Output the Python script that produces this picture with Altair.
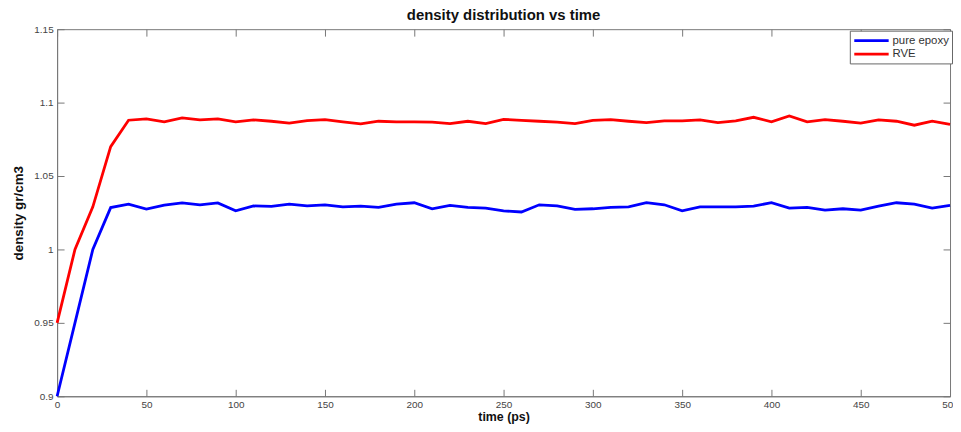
import altair as alt
import pandas as pd

# ---- data ----
time_ps = list(range(0, 501, 10))

pure_epoxy = [
    0.900, 0.950, 1.000, 1.0285, 1.0309, 1.0275, 1.0302, 1.0317, 1.0304, 1.0317,
    1.0263, 1.0296, 1.0293, 1.0309, 1.0296, 1.0304, 1.0290, 1.0295, 1.0286, 1.0309,
    1.0318, 1.0277, 1.0300, 1.0286, 1.0282, 1.0263, 1.0255, 1.0304, 1.0296, 1.0273,
    1.0277, 1.0286, 1.0290, 1.0318, 1.0304, 1.0263, 1.0290, 1.0290, 1.0290, 1.0295,
    1.0318, 1.0282, 1.0286, 1.0268, 1.0277, 1.0268, 1.0295, 1.0318, 1.0309, 1.0282,
    1.0300,
]

rve = [
    0.950, 1.000, 1.029, 1.070, 1.088, 1.0889, 1.0869, 1.0896, 1.0882, 1.0889,
    1.0869, 1.0882, 1.0873, 1.0860, 1.0878, 1.0884, 1.0869, 1.0855, 1.0873, 1.0869,
    1.0868, 1.0867, 1.0857, 1.0873, 1.0857, 1.0886, 1.0879, 1.0873, 1.0867, 1.0857,
    1.0879, 1.0884, 1.0873, 1.0864, 1.0875, 1.0876, 1.0882, 1.0864, 1.0875, 1.0900,
    1.0869, 1.0909, 1.0869, 1.0884, 1.0873, 1.0860, 1.0882, 1.0873, 1.0846, 1.0873,
    1.0851,
]

series_names = ["pure epoxy", "RVE"]
series_colors = ["#0000FF", "#FF0000"]
x_ticks = list(range(0, 501, 50))
y_ticks = [0.9, 0.95, 1.0, 1.05, 1.1, 1.15]

df = pd.DataFrame({
    "time": time_ps + time_ps,
    "density": pure_epoxy + rve,
    "series": [series_names[0]] * len(time_ps) + [series_names[1]] * len(time_ps),
})

W, H = 900, 370
FONT = "Liberation Sans"
AX = "#777777"

chart = alt.Chart(df).mark_line(strokeWidth=2.8).encode(
    x=alt.X(
        "time:Q",
        scale=alt.Scale(domain=[0, 500], nice=False, zero=False),
        axis=alt.Axis(
            values=x_ticks, format="d", title="time (ps)",
            ticks=False, grid=True, gridDash=[7, H - 14, 7, 2000],
            gridColor=AX, gridOpacity=1, gridWidth=1,
            domainColor=AX, labelFlush=False,
            labelFont=FONT, labelFontSize=10, labelColor="#444444", labelPadding=3,
            titleFont=FONT, titleFontSize=12.5, titleFontWeight="bold",
            titleColor="#111111", titlePadding=1.2,
        ),
    ),
    y=alt.Y(
        "density:Q",
        scale=alt.Scale(domain=[0.9, 1.15], nice=False, zero=False),
        axis=alt.Axis(
            values=y_ticks, format="~g", title="density gr/cm3",
            ticks=False, grid=True, gridDash=[7, W - 14, 7, 2000],
            gridColor=AX, gridOpacity=1, gridWidth=1,
            domainColor=AX, labelFlush=False,
            labelFont=FONT, labelFontSize=10, labelColor="#444444", labelPadding=4,
            titleFont=FONT, titleFontSize=13.5, titleFontWeight="bold",
            titleColor="#111111", titlePadding=8,
        ),
    ),
    color=alt.Color(
        "series:N",
        scale=alt.Scale(domain=series_names, range=series_colors),
        legend=alt.Legend(
            title=None, orient="none", legendX=799, legendY=1.5,
            symbolType="M-1,0L5.3,0", symbolSize=121, symbolStrokeWidth=2.8,
            labelFont=FONT, labelFontSize=11.5, labelColor="#333333", labelOffset=26,
            padding=3, rowPadding=0.6, strokeColor="#666666", fillColor="white",
        ),
    ),
).properties(
    width=W,
    height=H,
    title=alt.Title(
        "density distribution vs time", font=FONT, fontSize=15,
        fontWeight="bold", color="#111111", offset=1, anchor="middle",
    ),
    autosize=alt.AutoSizeParams(type="none"),
    padding={"left": 49.5, "top": 19.7, "right": 3, "bottom": 26.3},
    background="white",
).configure_view(stroke=AX, strokeWidth=1)

chart.save("out.html", embed_options={"renderer": "svg", "actions": False})
